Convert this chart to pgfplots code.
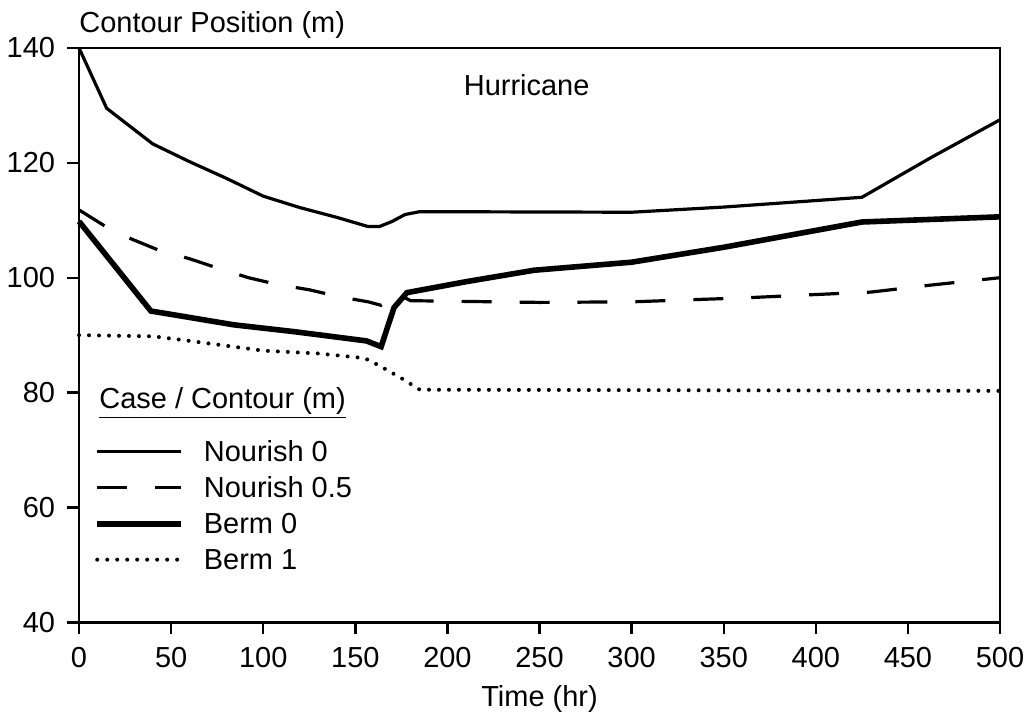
\documentclass[border=0pt]{standalone}
\usepackage{fontspec}
\setmainfont{Liberation Sans}
\usepackage{pgfplots}
\pgfplotsset{compat=1.18}
\begin{document}
\begin{tikzpicture}[font=\fontsize{14.5}{17.4}\selectfont]
\begin{axis}[
  scale only axis, width=461pt, height=287.5pt,
  xmin=0, xmax=500, ymin=40, ymax=140,
  xtick={0,50,...,500}, ytick={40,60,...,140},
  tick align=outside, xtick pos=bottom, ytick pos=left,
  major tick length=6pt,
  every tick/.style={black, line width=1.2pt},
  axis line style={line width=1.4pt},
  /pgf/number format/assume math mode=true,
  yticklabel style={xshift=-2.5pt},
  xticklabel style={yshift=-3pt},
  xlabel={Time (hr)},
  xlabel style={yshift=-2pt},
  clip=false,
  legend cell align=left,
  legend image code/.code={\draw[#1] (0pt,5pt) -- (42pt,5pt);},
  legend style={at={(rel axis cs:0.0163,0.315)}, anchor=north west, draw=none, fill=none,
    inner sep=0pt, row sep=5pt,
    nodes={inner sep=0pt, text height=10pt, text depth=3pt, anchor=base west},
    /tikz/every odd column/.append style={column sep=10pt}},
]
% Nourish 0
\addplot[black, line width=1.6pt] coordinates {
(0,140) (15,129.5) (40,123.3) (60,120.2) (80,117.3) (100,114.2) (120,112.2) (140,110.5)
(157,108.9) (163,108.9) (170,109.8) (177,111) (185,111.5) (300,111.4) (350,112.3)
(425,114) (463,121) (500,127.5)};
\addlegendentry{Nourish 0}
% Nourish 0.5
\addplot[black, line width=1.6pt, dash pattern=on 15pt off 14pt] coordinates {
(0,111.8) (14,109) (28,106.8) (44,104.7) (60,103.3) (76,101.6) (92,100) (108,98.8)
(125,97.9) (141,96.7) (157,95.8) (164,95.2) (172,97.3) (180,96) (250,95.7) (300,95.8)
(362,96.5) (395,97) (430,97.5) (462,98.7) (500,100)};
\addlegendentry{Nourish 0.5}
% Berm 0
\addplot[black, line width=2.8pt] coordinates {
(0,109.8) (39,94.2) (84,91.8) (117,90.6) (156,89) (164,88) (171,94.8) (178,97.4)
(210,99.3) (247,101.3) (300,102.7) (350,105.3) (425,109.7) (500,110.6)};
\addlegendentry{Berm 0}
% Berm 1
\addplot[black, line width=2pt, line cap=round, dash pattern=on 0pt off 5pt] coordinates {
(0,90) (40,89.8) (60,89) (100,87.3) (130,86.8) (155,86) (163,84.7) (175,82.5)
(185,80.5) (500,80.3)};
\addlegendentry{Berm 1}

\node[anchor=base west, inner sep=0pt] at (rel axis cs:0,1) [yshift=7.5pt] {Contour Position (m)};
\node at (axis cs:243,133.6) {Hurricane};
\node[anchor=base west, inner sep=0pt] at (rel axis cs:0.0217,0.372) {\underline{Case / Contour (m)}};
\path (rel axis cs:-0.0846,-0.1583) rectangle (rel axis cs:1.0358,1.0835);
\end{axis}
\end{tikzpicture}
\end{document}
